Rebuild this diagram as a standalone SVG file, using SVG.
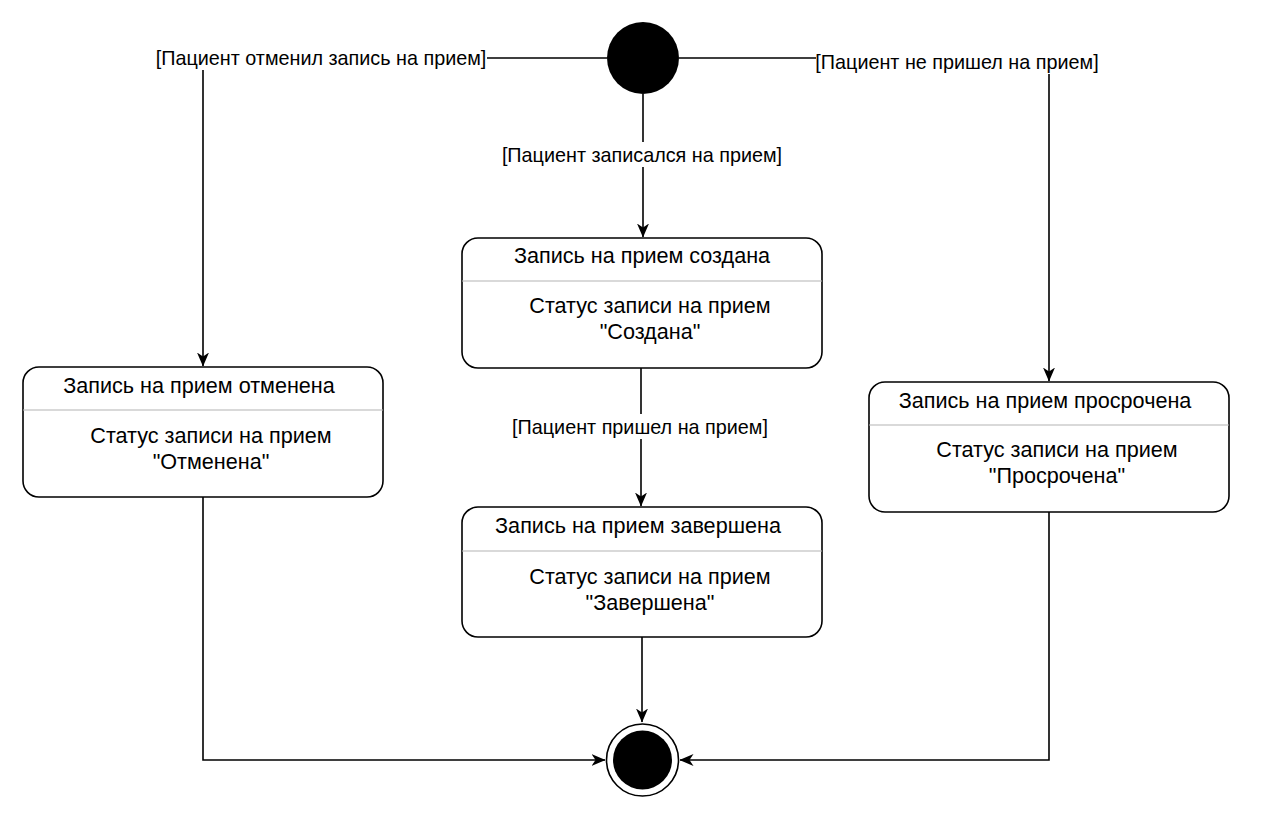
<svg xmlns="http://www.w3.org/2000/svg" width="1272" height="826" viewBox="0 0 1272 826">
<defs>
<marker id="arr" viewBox="0 0 14 12" refX="13.5" refY="6" markerWidth="14" markerHeight="12" markerUnits="userSpaceOnUse" orient="auto">
<path d="M0,0 L14,6 L0,12 L4,6 Z" fill="#000"/>
</marker>
<style>
.box{fill:#fff;stroke:#000;stroke-width:1.6}
.div{stroke:#b3b3b3;stroke-width:1}
.t{font-family:"Liberation Sans",Arial,sans-serif;font-size:21.6px;fill:#000;text-anchor:middle}
.lbl{font-family:"Liberation Sans",Arial,sans-serif;font-size:19.8px;fill:#000;text-anchor:middle}
.c{fill:none;stroke:#000;stroke-width:1.6}
.lb{fill:#fff}
</style>
</defs>
<rect width="1272" height="826" fill="#fff"/>
<g id="connectors">
<path class="c" d="M607,58 H203 V366" marker-end="url(#arr)"/>
<path class="c" d="M679,58 H1049 V381" marker-end="url(#arr)"/>
<path class="c" d="M643,94 V237" marker-end="url(#arr)"/>
<path class="c" d="M641,368 V506" marker-end="url(#arr)"/>
<path class="c" d="M642,637 V722" marker-end="url(#arr)"/>
<path class="c" d="M203,497 V760 H605" marker-end="url(#arr)"/>
<path class="c" d="M1049,512 V760 H680" marker-end="url(#arr)"/>
<rect class="lb" x="153" y="45" width="334" height="25"/>
<text class="lbl" x="321" y="65">[Пациент отменил запись на прием]</text>
<rect class="lb" x="816" y="49" width="286" height="25"/>
<text class="lbl" x="957" y="69">[Пациент не пришел на прием]</text>
<rect class="lb" x="499" y="142" width="288" height="25"/>
<text class="lbl" x="642" y="162">[Пациент записался на прием]</text>
<rect class="lb" x="509" y="414" width="264" height="25"/>
<text class="lbl" x="640" y="434">[Пациент пришел на прием]</text>
</g>
<g id="start">
<circle cx="643" cy="58" r="36" fill="#000"/>
</g>
<g id="end">
<circle cx="642.5" cy="760" r="36" fill="#fff" stroke="#000" stroke-width="1.6"/>
<circle cx="642.5" cy="760" r="29.5" fill="#000"/>
</g>
<g id="created">
<rect class="box" x="462" y="238" width="360" height="130" rx="16"/>
<line class="div" x1="462" y1="281" x2="822" y2="281"/>
<text class="t" x="642" y="263">Запись на прием создана</text>
<text class="t" x="650" y="313">Статус записи на прием</text>
<text class="t" x="650" y="339">"Создана"</text>
</g>
<g id="completed">
<rect class="box" x="462" y="507" width="360" height="130" rx="16"/>
<line class="div" x1="462" y1="551" x2="822" y2="551"/>
<text class="t" x="638" y="533">Запись на прием завершена</text>
<text class="t" x="650" y="584">Статус записи на прием</text>
<text class="t" x="650" y="610">"Завершена"</text>
</g>
<g id="cancelled">
<rect class="box" x="23" y="367" width="360" height="130" rx="16"/>
<line class="div" x1="23" y1="410" x2="383" y2="410"/>
<text class="t" x="199" y="393">Запись на прием отменена</text>
<text class="t" x="211" y="443">Статус записи на прием</text>
<text class="t" x="211" y="469">"Отменена"</text>
</g>
<g id="overdue">
<rect class="box" x="869" y="382" width="360" height="130" rx="16"/>
<line class="div" x1="869" y1="425" x2="1229" y2="425"/>
<text class="t" x="1045" y="408">Запись на прием просрочена</text>
<text class="t" x="1057" y="457">Статус записи на прием</text>
<text class="t" x="1057" y="483">"Просрочена"</text>
</g>
</svg>
